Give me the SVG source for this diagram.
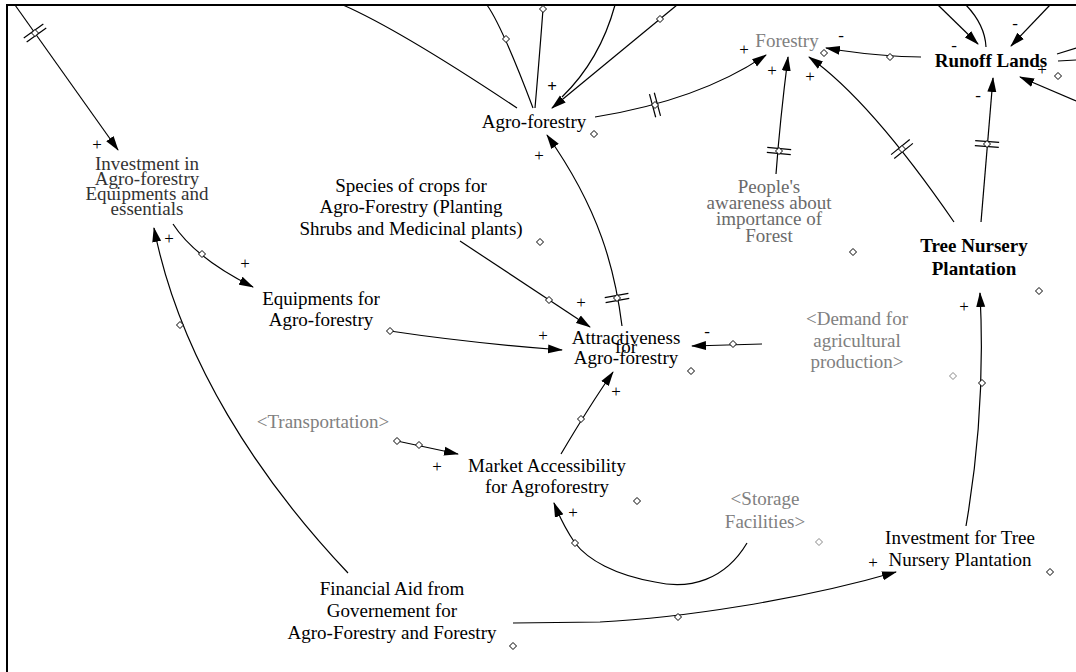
<svg xmlns="http://www.w3.org/2000/svg" xmlns:xlink="http://www.w3.org/1999/xlink" width="1076" height="672" viewBox="0 0 1076 672">
<style>
text{font-family:"Liberation Serif","Times New Roman",serif;font-size:19px;fill:#000;text-anchor:middle}
.g{fill:#808080}
.p{fill:#6a6a6a}
.dk{fill:#333}
.b{font-weight:bold}
.s{font-size:17px}
.c{fill:none;stroke:#000;stroke-width:1.2}
.dm{fill:#fff;stroke:#000;stroke-width:1}
.dg{fill:#fff;stroke:#888;stroke-width:1}
.dl line{stroke:#000;stroke-width:1.2}
</style>
<defs>
<marker id="ah" markerWidth="15" markerHeight="10" refX="14" refY="5" orient="auto" markerUnits="userSpaceOnUse">
<path d="M0,0.5 L15,5 L0,9.5 z" fill="#000"/>
</marker>
<path id="dm" d="M0,-3.5 L3.5,0 L0,3.5 L-3.5,0 z"/>
<g id="dl" class="dl"><line x1="-2.5" y1="-12" x2="-2.5" y2="12"/><line x1="2.5" y1="-12" x2="2.5" y2="12"/></g>
</defs>
<rect x="0" y="0" width="1076" height="672" fill="#fff"/>
<path d="M7,672 L7,5 L1076,5" fill="none" stroke="#000" stroke-width="2"/>

<g id="connectors">
<path class="c" d="M15,5 L118,150" marker-end="url(#ah)"/>
<path class="c" d="M343,5 Q400,30 517,108"/>
<path class="c" d="M487,5 Q502,26 533,108"/>
<path class="c" d="M543,9 Q540,50 535,108"/>
<path class="c" d="M615,5 Q600,60 562,97"/>
<path class="c" d="M677,5 L552,108" marker-end="url(#ah)"/>
<path class="c" d="M595,117 Q700,100 766,55" marker-end="url(#ah)"/>
<path class="c" d="M776,174 Q780,120 788,57" marker-end="url(#ah)"/>
<path class="c" d="M954,222 Q870,100 809,57" marker-end="url(#ah)"/>
<path class="c" d="M981,222 Q987,150 993,78" marker-end="url(#ah)"/>
<path class="c" d="M921,57 C900,57 860,54 826,48" marker-end="url(#ah)"/>
<path class="c" d="M938,5 L978,44" marker-end="url(#ah)"/>
<path class="c" d="M966,5 Q985,25 986,47"/>
<path class="c" d="M1050,5 L1011,46" marker-end="url(#ah)"/>
<path class="c" d="M1057,54 L1076,48 M1058,61 L1076,60"/>
<path class="c" d="M1076,101 L1020,77" stroke-width="2.2" marker-end="url(#ah)"/>
<path class="c" d="M173,224 Q195,258 253,287" marker-end="url(#ah)"/>
<path class="c" d="M348,573 C260,480 180,360 154,228" marker-end="url(#ah)"/>
<path class="c" d="M390,331 Q470,343 562,350" marker-end="url(#ah)"/>
<path class="c" d="M460,241 L590,327" marker-end="url(#ah)"/>
<path class="c" d="M622,326 C615,270 600,210 547,135" marker-end="url(#ah)"/>
<path class="c" d="M762,344 L692,346" marker-end="url(#ah)"/>
<path class="c" d="M397,441 L458,454" marker-end="url(#ah)"/>
<path class="c" d="M561,454 Q590,405 613,372" marker-end="url(#ah)"/>
<path class="c" d="M747,543 C725,580 690,590 655,582 C615,575 588,560 575,543 C566,530 560,518 554,503" marker-end="url(#ah)"/>
<path class="c" d="M513,623 L600,622 C680,618 800,600 896,572" marker-end="url(#ah)"/>
<path class="c" d="M966,526 Q986,410 980,293" marker-end="url(#ah)"/>
<!-- delay marks -->
<use href="#dl" transform="translate(35,33) rotate(54.6)"/>
<use href="#dl" transform="translate(655,105) rotate(-15)"/>
<use href="#dl" transform="translate(779,151) rotate(-85)"/>
<use href="#dl" transform="translate(902,149) rotate(-129)"/>
<use href="#dl" transform="translate(987,144) rotate(-86)"/>
<use href="#dl" transform="translate(617,298) rotate(-100)"/>
<!-- connector markers -->
<use href="#dm" class="dm" x="35" y="33"/>
<use href="#dm" class="dm" x="655" y="105"/>
<use href="#dm" class="dm" x="779" y="151"/>
<use href="#dm" class="dm" x="902" y="149"/>
<use href="#dm" class="dm" x="987" y="144"/>
<use href="#dm" class="dm" x="617" y="298"/>
<use href="#dm" class="dm" x="506" y="39"/>
<use href="#dm" class="dm" x="543" y="9"/>
<use href="#dm" class="dm" x="660" y="19"/>
<use href="#dm" class="dm" x="890" y="57"/>
<use href="#dm" class="dm" x="202" y="254"/>
<use href="#dm" class="dm" x="180" y="325"/>
<use href="#dm" class="dm" x="390" y="331"/>
<use href="#dm" class="dm" x="549" y="300"/>
<use href="#dm" class="dm" x="733" y="344"/>
<use href="#dm" class="dm" x="397" y="441"/>
<use href="#dm" class="dm" x="419" y="445"/>
<use href="#dm" class="dm" x="581" y="419"/>
<use href="#dm" class="dm" x="575" y="543"/>
<use href="#dm" class="dm" x="678" y="617"/>
<use href="#dm" class="dm" x="982" y="383"/>
</g>

<g id="signs">
<text class="s" x="97" y="150">+</text>
<text class="s" x="169" y="244">+</text>
<text class="s" x="245" y="269">+</text>
<text class="s b" x="552" y="92">+</text>
<text class="s" x="539" y="161">+</text>
<text class="s" x="744" y="55">+</text>
<text class="s" x="772" y="76">+</text>
<text class="s" x="810" y="82">+</text>
<text class="s" x="841" y="41">-</text>
<text class="s" x="954" y="51">-</text>
<text class="s" x="1015" y="29">-</text>
<text class="s" x="1042" y="75">+</text>
<text class="s" x="978" y="101">-</text>
<text class="s" x="581" y="308">+</text>
<text class="s" x="543" y="341">+</text>
<text class="s" x="707" y="337">-</text>
<text class="s" x="616" y="397">+</text>
<text class="s" x="437" y="472">+</text>
<text class="s" x="573" y="518">+</text>
<text class="s" x="873" y="568">+</text>
<text class="s" x="964" y="312">+</text>
</g>

<g id="invest-agro"><text class="dk" x="147" y="170">Investment in</text><text class="dk" x="147" y="185">Agro-forestry</text><text class="dk" x="147" y="200">Equipments and</text><text class="dk" x="147" y="215">essentials</text></g>
<g id="equipments"><text x="321" y="305">Equipments for</text><text x="321" y="326">Agro-forestry</text></g>
<g id="species"><text x="411" y="192">Species of crops for</text><text x="411" y="213">Agro-Forestry (Planting</text><text x="411" y="235">Shrubs and Medicinal plants)</text><use href="#dm" class="dm" x="540" y="242"/></g>
<g id="agroforestry"><text x="534" y="128">Agro-forestry</text><use href="#dm" class="dm" x="594" y="134"/></g>
<g id="forestry"><text class="g" x="787" y="47">Forestry</text><use href="#dm" class="dm" x="824" y="53"/></g>
<g id="runoff"><text class="b" x="991" y="67">Runoff Lands</text><use href="#dm" class="dm" x="1058" y="76"/></g>
<g id="awareness"><text class="p" x="769" y="193">People's</text><text class="p" x="769" y="209">awareness about</text><text class="p" x="769" y="225">importance of</text><text class="p" x="769" y="242">Forest</text><use href="#dm" class="dm" x="853" y="252"/></g>
<g id="tree-nursery"><text class="b" x="974" y="252">Tree Nursery</text><text class="b" x="974" y="275">Plantation</text><use href="#dm" class="dm" x="1039" y="291"/></g>
<g id="attractiveness"><text x="626" y="344">Attractiveness</text><text x="626" y="353">for</text><text x="626" y="364">Agro-forestry</text><use href="#dm" class="dm" x="691" y="371"/></g>
<g id="demand"><text class="g" x="857" y="325">&lt;Demand for</text><text class="g" x="857" y="347">agricultural</text><text class="g" x="857" y="368">production&gt;</text><use href="#dm" class="dg" x="953" y="376"/></g>
<g id="transportation"><text class="g" x="323" y="428">&lt;Transportation&gt;</text></g>
<g id="market"><text x="547" y="472">Market Accessibility</text><text x="547" y="493">for Agroforestry</text><use href="#dm" class="dm" x="637" y="501"/></g>
<g id="storage"><text class="g" x="765" y="505">&lt;Storage</text><text class="g" x="765" y="528">Facilities&gt;</text><use href="#dm" class="dg" x="819" y="542"/></g>
<g id="invest-tree"><text x="960" y="544">Investment for Tree</text><text x="960" y="566">Nursery Plantation</text><use href="#dm" class="dm" x="1050" y="572"/></g>
<g id="financial"><text x="392" y="595">Financial Aid from</text><text x="392" y="617">Governement for</text><text x="392" y="639">Agro-Forestry and Forestry</text><use href="#dm" class="dm" x="513" y="646"/></g>
</svg>
